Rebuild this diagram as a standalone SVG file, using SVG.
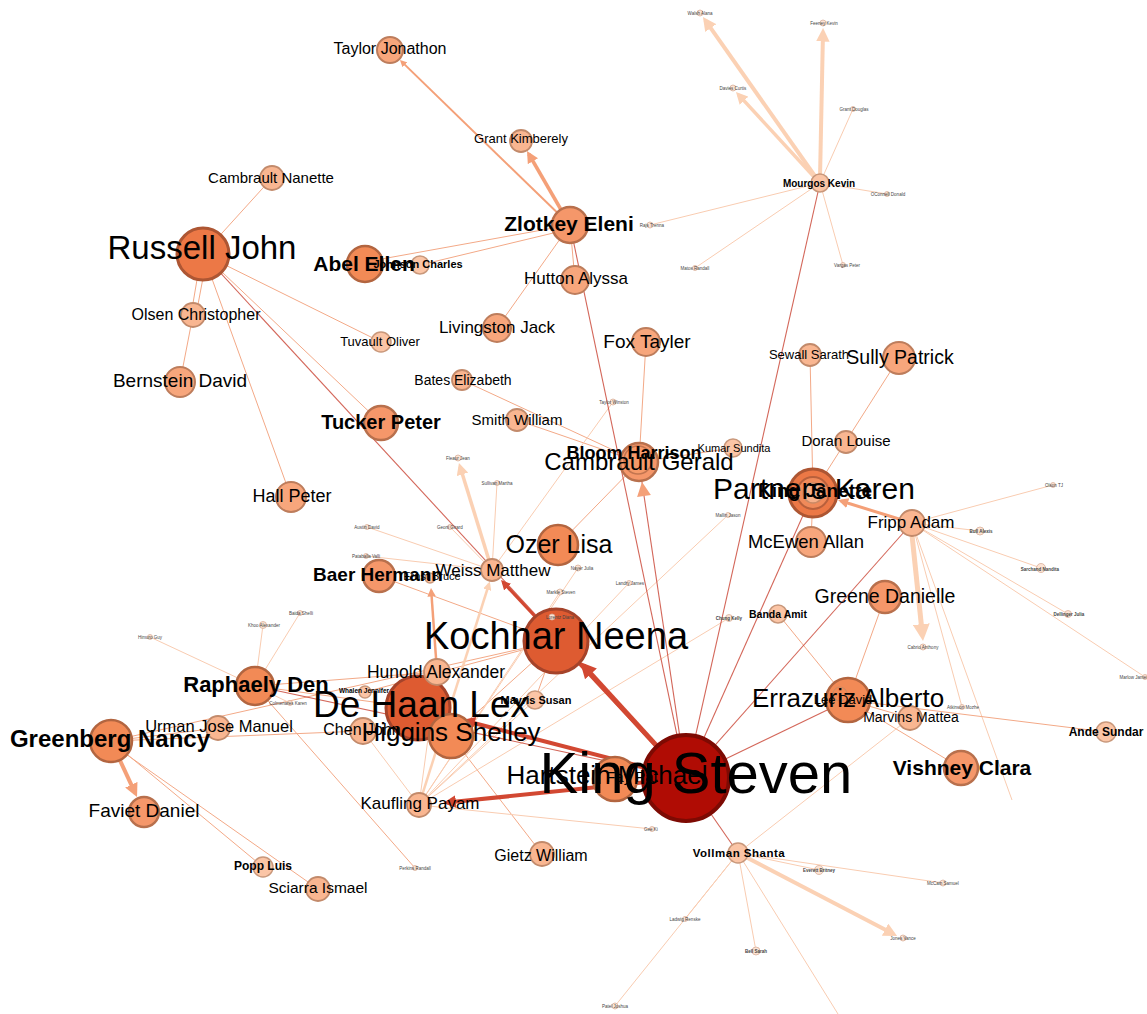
<svg xmlns="http://www.w3.org/2000/svg" width="1147" height="1014" viewBox="0 0 1147 1014">
<defs>
<style>
.e{fill:none;stroke:#f3a987;stroke-width:1}
.ep{fill:none;stroke:#f9ccb1;stroke-width:1}
.er{fill:none;stroke:#c8402f;stroke-width:1.1;stroke-opacity:.8}
.tr{fill:none;stroke:#d24832}
.tp{fill:none;stroke:#fbd1b4}
.to{fill:none;stroke:#f4a078}
.nk{fill:#b00c04;stroke:#7d0a03;stroke-width:4}
.n1{fill:#de5b31;stroke:#a5432a;stroke-width:3}
.n2{fill:#ec7846;stroke:#ad5633;stroke-width:3}
.n3{fill:#f28a56;stroke:#b26540;stroke-width:2.5}
.n4{fill:#f5976a;stroke:#b8704d;stroke-width:2.5}
.n5{fill:#f7a67c;stroke:#bd7d5c;stroke-width:2}
.n6{fill:#f9b691;stroke:#c28a6b;stroke-width:1.8}
.n7{fill:#fbc5a6;stroke:#c9987b;stroke-width:1.5}
.nt{fill:#fde4d5;stroke:#d8b09a;stroke-width:.8}
text{font-family:"Liberation Sans",Arial,sans-serif;fill:#000;text-anchor:middle}
.b{font-weight:bold}
.tt{font-size:4.5px;fill:#444}
</style>
<marker id="aR" viewBox="0 0 10 10" refX="7" refY="5" markerWidth="3.2" markerHeight="3.2" orient="auto" markerUnits="strokeWidth"><path d="M0,0L10,5L0,10z" fill="#d24832"/></marker>
<marker id="aP" viewBox="0 0 10 10" refX="7" refY="5" markerWidth="3.4" markerHeight="3.4" orient="auto" markerUnits="strokeWidth"><path d="M0,0L10,5L0,10z" fill="#fbd1b4"/></marker>
<marker id="aO" viewBox="0 0 10 10" refX="7" refY="5" markerWidth="3.4" markerHeight="3.4" orient="auto" markerUnits="strokeWidth"><path d="M0,0L10,5L0,10z" fill="#f4a078"/></marker>
</defs>
<rect width="1147" height="1014" fill="#fff"/>
<g id="connectors">
<line class="ep" x1="820" y1="183" x2="853" y2="109"/>
<line class="ep" x1="820" y1="183" x2="887" y2="194"/>
<line class="ep" x1="820" y1="183" x2="843" y2="265"/>
<line class="ep" x1="820" y1="183" x2="695" y2="268"/>
<line class="ep" x1="820" y1="183" x2="650" y2="225"/>
<line class="tp" stroke-width="4" x1="817" y1="179" x2="705.3" y2="20.3" marker-end="url(#aP)"/>
<line class="tp" stroke-width="4" x1="820" y1="178" x2="823" y2="32" marker-end="url(#aP)"/>
<line class="tp" stroke-width="3.5" x1="816" y1="179" x2="738.4" y2="94.6" marker-end="url(#aP)"/>
<line class="e" x1="203" y1="254" x2="272" y2="178"/>
<line class="e" x1="200" y1="262" x2="191" y2="315"/>
<line class="e" x1="206" y1="262" x2="196" y2="315"/>
<line class="e" x1="193" y1="315" x2="180" y2="382"/>
<line class="e" x1="203" y1="254" x2="291" y2="497"/>
<line class="e" x1="203" y1="254" x2="381" y2="423"/>
<line class="e" x1="203" y1="254" x2="381" y2="342"/>
<line class="to" stroke-width="2" x1="570" y1="225" x2="401.4" y2="61.4" marker-end="url(#aO)"/>
<line class="to" stroke-width="3.5" x1="567" y1="220" x2="528.8" y2="154" marker-end="url(#aO)"/>
<line class="e" x1="570" y1="225" x2="365" y2="262"/>
<line class="e" x1="570" y1="229" x2="420" y2="265"/>
<line class="e" x1="570" y1="225" x2="575" y2="280"/>
<line class="e" x1="570" y1="225" x2="497" y2="328"/>
<line class="e" x1="646" y1="342" x2="639" y2="462"/>
<line class="e" x1="462" y1="380" x2="639" y2="462"/>
<line class="e" x1="517" y1="420" x2="639" y2="462"/>
<line class="e" x1="733" y1="448" x2="639" y2="462"/>
<line class="e" x1="558" y1="545" x2="639" y2="462"/>
<line class="tp" stroke-width="3.5" x1="492" y1="570" x2="460" y2="466.4" marker-end="url(#aP)"/>
<line class="ep" x1="492" y1="570" x2="497" y2="483"/>
<line class="ep" x1="492" y1="570" x2="613" y2="402"/>
<line class="ep" x1="492" y1="570" x2="450" y2="527"/>
<line class="ep" x1="492" y1="570" x2="367" y2="527"/>
<line class="ep" x1="492" y1="570" x2="366" y2="556"/>
<line class="e" x1="810" y1="355" x2="813" y2="493"/>
<line class="e" x1="899" y1="358" x2="813" y2="493"/>
<line class="e" x1="813" y1="493" x2="811" y2="542"/>
<line class="to" stroke-width="3" x1="912" y1="523" x2="841" y2="501" marker-end="url(#aO)"/>
<line class="ep" x1="912" y1="523" x2="980" y2="531"/>
<line class="ep" x1="912" y1="523" x2="1041" y2="568"/>
<line class="ep" x1="912" y1="523" x2="1068" y2="614"/>
<line class="ep" x1="912" y1="523" x2="1053" y2="485"/>
<line class="ep" x1="912" y1="523" x2="1145" y2="677"/>
<line class="ep" x1="912" y1="523" x2="962" y2="707"/>
<line class="ep" x1="912" y1="523" x2="1012" y2="800"/>
<line class="tp" stroke-width="5" x1="912" y1="535" x2="922.5" y2="636" marker-end="url(#aP)"/>
<line class="e" x1="848" y1="700" x2="885" y2="597"/>
<line class="e" x1="848" y1="700" x2="778" y2="614"/>
<line class="e" x1="848" y1="700" x2="910" y2="718"/>
<line class="e" x1="848" y1="700" x2="961" y2="768"/>
<line class="e" x1="848" y1="700" x2="1106" y2="732"/>
<line class="to" stroke-width="4" x1="111" y1="741" x2="135.3" y2="793.4" marker-end="url(#aO)"/>
<line class="e" x1="111" y1="741" x2="218" y2="728"/>
<line class="e" x1="111" y1="741" x2="363" y2="731"/>
<line class="e" x1="111" y1="741" x2="263" y2="867"/>
<line class="e" x1="113" y1="745" x2="318" y2="889"/>
<line class="e" x1="111" y1="741" x2="556" y2="641"/>
<line class="e" x1="379" y1="576" x2="556" y2="641"/>
<line class="e" x1="556" y1="641" x2="451" y2="736"/>
<line class="e" x1="556" y1="641" x2="535" y2="700"/>
<line class="e" x1="556" y1="641" x2="365" y2="692"/>
<line class="e" x1="418" y1="708" x2="437" y2="672"/>
<line class="e" x1="451" y1="736" x2="542" y2="854"/>
<line class="e" x1="255" y1="686" x2="418" y2="708"/>
<line class="e" x1="255" y1="686" x2="437" y2="672"/>
<line class="to" stroke-width="2.5" x1="437" y1="672" x2="431.2" y2="590.5" marker-end="url(#aO)"/>
<line class="ep" x1="255" y1="686" x2="263" y2="625"/>
<line class="ep" x1="255" y1="686" x2="300" y2="613"/>
<line class="ep" x1="255" y1="686" x2="150" y2="637"/>
<line class="ep" x1="255" y1="686" x2="290" y2="703"/>
<line class="e" x1="255" y1="686" x2="415" y2="868"/>
<line class="ep" x1="419" y1="805" x2="652" y2="829"/>
<line class="ep" x1="419" y1="805" x2="729" y2="618"/>
<line class="ep" x1="419" y1="805" x2="728" y2="515"/>
<line class="ep" x1="419" y1="805" x2="629" y2="583"/>
<line class="ep" x1="419" y1="805" x2="560" y2="592"/>
<line class="ep" x1="419" y1="805" x2="578" y2="568"/>
<line class="ep" x1="419" y1="805" x2="535" y2="700"/>
<line class="ep" x1="419" y1="805" x2="437" y2="672"/>
<line class="ep" x1="419" y1="805" x2="363" y2="731"/>
<line class="tp" stroke-width="2.5" x1="419" y1="805" x2="489" y2="584" marker-end="url(#aP)"/>
<line class="ep" x1="738" y1="853" x2="819" y2="870"/>
<line class="ep" x1="738" y1="853" x2="943" y2="883"/>
<line class="ep" x1="738" y1="853" x2="756" y2="951"/>
<line class="ep" x1="738" y1="853" x2="685" y2="919"/>
<line class="ep" x1="738" y1="853" x2="615" y2="1006"/>
<line class="ep" x1="738" y1="853" x2="838" y2="1014"/>
<line class="ep" x1="738" y1="853" x2="910" y2="718"/>
<line class="tp" stroke-width="4" x1="738" y1="853" x2="893.5" y2="934" marker-end="url(#aP)"/>
<line class="er" x1="686" y1="778" x2="570" y2="225"/>
<line class="er" x1="686" y1="778" x2="820" y2="183"/>
<line class="er" x1="686" y1="778" x2="203" y2="254"/>
<line class="er" x1="686" y1="778" x2="813" y2="493"/>
<line class="er" x1="686" y1="778" x2="912" y2="523"/>
<line class="er" x1="686" y1="778" x2="848" y2="700"/>
<line class="er" x1="686" y1="778" x2="255" y2="686"/>
<line class="er" x1="686" y1="778" x2="738" y2="853"/>
<line class="er" x1="686" y1="778" x2="639" y2="462"/>
<polygon points="642,482 650.9,495 637.1,497" fill="#f4a078"/>
<line class="tr" stroke-width="5" x1="686" y1="778" x2="583.4" y2="665.6" marker-end="url(#aR)"/>
<line class="tr" stroke-width="3" x1="686" y1="778" x2="503" y2="582.2" marker-end="url(#aR)"/>
<line class="tr" stroke-width="4" x1="686" y1="778" x2="465.9" y2="721" marker-end="url(#aR)"/>
<line class="tr" stroke-width="4" x1="686" y1="778" x2="447" y2="802.6" marker-end="url(#aR)"/>
</g>
<g id="nodes">
<g id="n-mourgos-tiny"><circle class="nt" cx="700" cy="13" r="3"/><circle class="nt" cx="823" cy="23" r="3"/><circle class="nt" cx="733" cy="88" r="3"/><circle class="nt" cx="853" cy="109" r="2.5"/><circle class="nt" cx="887" cy="194" r="2.5"/><circle class="nt" cx="843" cy="265" r="2.5"/><circle class="nt" cx="695" cy="268" r="2.5"/><circle class="nt" cx="650" cy="225" r="3"/></g>
<g id="n-fripp-tiny"><circle class="nt" cx="980" cy="531" r="4"/><circle class="nt" cx="1041" cy="568" r="4.5"/><circle class="nt" cx="1068" cy="614" r="3.5"/><circle class="nt" cx="923" cy="647" r="3"/><circle class="nt" cx="1053" cy="485" r="2.5"/><circle class="nt" cx="1145" cy="677" r="2.5"/><circle class="nt" cx="962" cy="707" r="2.5"/></g>
<g id="n-vollman-tiny"><circle class="nt" cx="819" cy="870" r="4.5"/><circle class="nt" cx="943" cy="883" r="3"/><circle class="nt" cx="903" cy="938" r="3"/><circle class="nt" cx="756" cy="951" r="4"/><circle class="nt" cx="685" cy="919" r="2.5"/><circle class="nt" cx="615" cy="1006" r="3"/><circle class="nt" cx="652" cy="829" r="2.5"/></g>
<g id="n-center-tiny"><circle class="nt" cx="263" cy="625" r="3.5"/><circle class="nt" cx="300" cy="613" r="2.5"/><circle class="nt" cx="150" cy="637" r="2.5"/><circle class="nt" cx="290" cy="703" r="2.5"/><circle class="nt" cx="415" cy="868" r="2.5"/><circle class="nt" cx="613" cy="402" r="3"/><circle class="nt" cx="458" cy="458" r="3"/><circle class="nt" cx="497" cy="483" r="2.5"/><circle class="nt" cx="450" cy="527" r="2.5"/><circle class="nt" cx="367" cy="527" r="2.5"/><circle class="nt" cx="366" cy="556" r="2.5"/><circle class="nt" cx="578" cy="568" r="3"/><circle class="nt" cx="560" cy="592" r="3"/><circle class="nt" cx="629" cy="583" r="2.5"/><circle class="nt" cx="728" cy="515" r="2.5"/><circle class="nt" cx="729" cy="618" r="3.5"/></g>
<g id="n-king-steven"><circle class="nk" cx="686" cy="778" r="43"/></g>
<g id="n-kochhar-neena"><circle class="n1" cx="556" cy="641" r="32"/><circle class="nt" cx="552" cy="617" r="3"/></g>
<g id="n-de-haan-lex"><circle class="n1" cx="418" cy="708" r="32"/></g>
<g id="n-russell-john"><circle class="n2" cx="203" cy="254" r="26"/></g>
<g id="n-partners-karen"><circle class="n2" cx="813" cy="493" r="24"/><circle fill="#f08a5a" stroke="#b8603c" stroke-width="2" cx="813" cy="493" r="16"/><circle fill="#f6b08a" stroke="#c98a66" stroke-width="1.5" cx="813" cy="493" r="10"/></g>
<g id="n-errazuriz-alberto"><circle class="n3" cx="848" cy="700" r="22"/><circle fill="none" stroke="#c98a66" stroke-width="1" cx="840" cy="694" r="7"/></g>
<g id="n-higgins-shelley"><circle class="n3" cx="451" cy="736" r="22"/></g>
<g id="n-hartstein-michael"><circle class="n3" cx="615" cy="779" r="22"/></g>
<g id="n-ozer-lisa"><circle class="n3" cx="558" cy="545" r="20"/></g>
<g id="n-greenberg-nancy"><circle class="n3" cx="111" cy="741" r="21"/></g>
<g id="n-abel-ellen"><circle class="n3" cx="365" cy="264" r="18"/></g>
<g id="n-raphaely-den"><circle class="n3" cx="255" cy="686" r="19"/></g>
<g id="n-cambrault-gerald"><circle class="n4" cx="639" cy="462" r="19"/><circle fill="#f59a6a" stroke="#c27550" stroke-width="1.5" cx="638" cy="460" r="14"/></g>
<g id="n-zlotkey-eleni"><circle class="n4" cx="570" cy="225" r="18"/></g>
<g id="n-tucker-peter"><circle class="n4" cx="381" cy="423" r="17"/></g>
<g id="n-baer-hermann"><circle class="n4" cx="379" cy="576" r="16"/></g>
<g id="n-vishney-clara"><circle class="n4" cx="961" cy="768" r="17"/></g>
<g id="n-greene-danielle"><circle class="n4" cx="885" cy="597" r="16"/></g>
<g id="n-faviet-daniel"><circle class="n4" cx="144" cy="812" r="15"/></g>
<g id="n-taylor-jonathon"><circle class="n5" cx="390" cy="50" r="13"/></g>
<g id="n-bernstein-david"><circle class="n5" cx="180" cy="382" r="15"/></g>
<g id="n-hall-peter"><circle class="n5" cx="291" cy="497" r="15"/></g>
<g id="n-hutton-alyssa"><circle class="n5" cx="575" cy="280" r="14"/></g>
<g id="n-sully-patrick"><circle class="n5" cx="899" cy="358" r="16"/></g>
<g id="n-mcewen-allan"><circle class="n5" cx="811" cy="542" r="15"/></g>
<g id="n-fox-tayler"><circle class="n5" cx="646" cy="342" r="14"/></g>
<g id="n-livingston-jack"><circle class="n5" cx="497" cy="328" r="14"/></g>
<g id="n-grant-kimberely"><circle class="n6" cx="521" cy="141" r="11"/></g>
<g id="n-cambrault-nanette"><circle class="n6" cx="272" cy="178" r="12"/></g>
<g id="n-olsen-christopher"><circle class="n6" cx="193" cy="315" r="12"/></g>
<g id="n-smith-william"><circle class="n6" cx="517" cy="420" r="11"/></g>
<g id="n-hunold-alexander"><circle class="n6" cx="437" cy="672" r="13"/></g>
<g id="n-weiss-matthew"><circle class="n6" cx="492" cy="570" r="11"/></g>
<g id="n-kaufling-payam"><circle class="n6" cx="419" cy="805" r="12"/></g>
<g id="n-gietz-william"><circle class="n6" cx="542" cy="854" r="12"/></g>
<g id="n-sewall-sarath"><circle class="n6" cx="810" cy="355" r="11"/></g>
<g id="n-doran-louise"><circle class="n6" cx="846" cy="442" r="11"/></g>
<g id="n-fripp-adam"><circle class="n6" cx="912" cy="523" r="13"/></g>
<g id="n-marvins-mattea"><circle class="n6" cx="910" cy="718" r="12"/></g>
<g id="n-sciarra-ismael"><circle class="n6" cx="318" cy="889" r="12"/></g>
<g id="n-urman-jose-manuel"><circle class="n6" cx="218" cy="728" r="12"/></g>
<g id="n-chen-john"><circle class="n6" cx="363" cy="731" r="13"/></g>
<g id="n-bates-elizabeth"><circle class="n6" cx="462" cy="380" r="10"/></g>
<g id="n-tuvault-oliver"><circle class="n7" cx="381" cy="342" r="10"/></g>
<g id="n-kumar-sundita"><circle class="n7" cx="733" cy="448" r="9"/></g>
<g id="n-mavris-susan"><circle class="n7" cx="535" cy="700" r="9"/></g>
<g id="n-popp-luis"><circle class="n7" cx="263" cy="867" r="10"/></g>
<g id="n-vollman-shanta"><circle class="n7" cx="738" cy="853" r="10"/></g>
<g id="n-banda-amit"><circle class="n7" cx="778" cy="614" r="9"/></g>
<g id="n-mourgos-kevin"><circle class="n7" cx="820" cy="183" r="9"/></g>
<g id="n-ande-sundar"><circle class="n7" cx="1106" cy="732" r="10"/></g>
<g id="n-johnson-charles"><circle class="n7" cx="420" cy="265" r="9"/></g>
<g id="n-whalen-jennifer"><circle class="n7" cx="365" cy="692" r="6"/></g>
<g id="n-ernst-bruce"><circle class="n7" cx="430" cy="578" r="5"/></g>
</g>
<g id="labels">
<text x="390" y="54" font-size="16">Taylor Jonathon</text>
<text x="521" y="143" font-size="13">Grant Kimberely</text>
<text x="271" y="183" font-size="15">Cambrault Nanette</text>
<text x="202" y="259" font-size="33">Russell John</text>
<text x="364" y="271" font-size="21" class="b">Abel Ellen</text>
<text x="418" y="268" font-size="11" class="b">Johnson Charles</text>
<text x="569" y="231" font-size="21" class="b">Zlotkey Eleni</text>
<text x="576" y="284" font-size="17">Hutton Alyssa</text>
<text x="196" y="320" font-size="16">Olsen Christopher</text>
<text x="380" y="346" font-size="13">Tuvault Oliver</text>
<text x="497" y="333" font-size="17">Livingston Jack</text>
<text x="647" y="348" font-size="19">Fox Tayler</text>
<text x="180" y="387" font-size="19">Bernstein David</text>
<text x="463" y="385" font-size="14">Bates Elizabeth</text>
<text x="381" y="429" font-size="20" class="b">Tucker Peter</text>
<text x="517" y="425" font-size="15">Smith William</text>
<text x="809" y="359" font-size="13">Sewall Sarath</text>
<text x="900" y="364" font-size="19.5">Sully Patrick</text>
<text x="846" y="446" font-size="15">Doran Louise</text>
<text x="734" y="452" font-size="11">Kumar Sundita</text>
<text x="639" y="470" font-size="24">Cambrault Gerald</text>
<text x="634" y="459" font-size="18" class="b">Bloom Harrison</text>
<text x="292" y="502" font-size="18">Hall Peter</text>
<text x="814" y="499" font-size="30">Partners Karen</text>
<text x="815" y="497" font-size="19" class="b">King Janette</text>
<text x="911" y="528" font-size="17">Fripp Adam</text>
<text x="806" y="548" font-size="18.5">McEwen Allan</text>
<text x="559" y="553" font-size="25">Ozer Lisa</text>
<text x="432" y="580" font-size="11">Ernst Bruce</text>
<text x="378" y="581" font-size="19" class="b">Baer Hermann</text>
<text x="493" y="576" font-size="17">Weiss Matthew</text>
<text x="885" y="603" font-size="19.5">Greene Danielle</text>
<text x="778" y="618" font-size="10.5" class="b">Banda Amit</text>
<text x="556" y="649" font-size="38">Kochhar Neena</text>
<text x="436" y="678" font-size="17.5">Hunold Alexander</text>
<text x="256" y="692" font-size="22" class="b">Raphaely Den</text>
<text x="364" y="693" font-size="6.5" class="b">Whalen Jennifer</text>
<text x="536" y="704" font-size="11" class="b">Mavris Susan</text>
<text x="843" y="704" font-size="13">Lee David</text>
<text x="848" y="707" font-size="26">Errazuriz Alberto</text>
<text x="911" y="722" font-size="14">Marvins Mattea</text>
<text x="1106" y="736" font-size="12" class="b">Ande Sundar</text>
<text x="219" y="732" font-size="16.5">Urman Jose Manuel</text>
<text x="362" y="735" font-size="16">Chen John</text>
<text x="110" y="747" font-size="24" class="b">Greenberg Nancy</text>
<text x="421" y="717" font-size="37">De Haan Lex</text>
<text x="451" y="741" font-size="26">Higgins Shelley</text>
<text x="962" y="775" font-size="21" class="b">Vishney Clara</text>
<text x="607" y="784" font-size="26">Hartstein Michael</text>
<text x="632" y="782" font-size="15">Fay Pat</text>
<text x="696" y="793" font-size="58">King Steven</text>
<text x="420" y="809" font-size="17">Kaufling Payam</text>
<text x="144" y="817" font-size="19">Faviet Daniel</text>
<text x="541" y="861" font-size="16">Gietz William</text>
<text x="739" y="857" font-size="11.5" class="b" letter-spacing="0.5">Vollman Shanta</text>
<text x="263" y="870" font-size="12" class="b">Popp Luis</text>
<text x="318" y="893" font-size="15.5">Sciarra Ismael</text>
<text x="819" y="187" font-size="10" class="b">Mourgos Kevin</text>
<text class="tt" x="700" y="15">Walsh Alana</text>
<text class="tt" x="824" y="25">Feeney Kevin</text>
<text class="tt" x="733" y="90">Davies Curtis</text>
<text class="tt" x="854" y="111" font-size="3.5">Grant Douglas</text>
<text class="tt" x="888" y="196" font-size="3.5">OConnell Donald</text>
<text class="tt" x="847" y="267" font-size="3.5">Vargas Peter</text>
<text class="tt" x="695" y="270" font-size="3.5">Matos Randall</text>
<text class="tt" x="652" y="227" font-size="4">Rajs Trenna</text>
<text class="tt b" x="981" y="533" font-size="6">Bull Alexis</text>
<text class="tt b" x="1040" y="571" font-size="7">Sarchand Nandita</text>
<text class="tt b" x="1069" y="616" font-size="5">Dellinger Julia</text>
<text class="tt" x="923" y="649" font-size="3.5">Cabrio Anthony</text>
<text class="tt" x="1054" y="487" font-size="3.5">Olson TJ</text>
<text class="tt" x="1134" y="679" font-size="3.5">Marlow James</text>
<text class="tt" x="963" y="709" font-size="3.5">Atkinson Mozhe</text>
<text class="tt b" x="819" y="872" font-size="6">Everett Britney</text>
<text class="tt" x="943" y="885" font-size="4">McCain Samuel</text>
<text class="tt" x="903" y="940" font-size="3.5">Jones Vance</text>
<text class="tt b" x="756" y="953" font-size="5.5">Bell Sarah</text>
<text class="tt" x="685" y="921" font-size="3.5">Ladwig Renske</text>
<text class="tt" x="615" y="1008" font-size="4">Patel Joshua</text>
<text class="tt" x="651" y="831" font-size="3.5">Gee Ki</text>
<text class="tt" x="264" y="627" font-size="4.5">Khoo Alexander</text>
<text class="tt" x="301" y="615" font-size="3.5">Baida Shelli</text>
<text class="tt" x="150" y="639" font-size="3.5">Himuro Guy</text>
<text class="tt" x="288" y="705" font-size="3.5">Colmenares Karen</text>
<text class="tt" x="415" y="870" font-size="3.5">Perkins Randall</text>
<text class="tt" x="614" y="404" font-size="4">Taylor Winston</text>
<text class="tt" x="458" y="460" font-size="4">Fleaur Jean</text>
<text class="tt" x="497" y="485" font-size="3.5">Sullivan Martha</text>
<text class="tt" x="450" y="529" font-size="3.5">Geoni Girard</text>
<text class="tt" x="367" y="529" font-size="3.5">Austin David</text>
<text class="tt" x="366" y="558" font-size="3.5">Pataballa Valli</text>
<text class="tt" x="582" y="570" font-size="4">Nayer Julia</text>
<text class="tt" x="561" y="594" font-size="4">Markle Steven</text>
<text class="tt" x="630" y="585" font-size="3.5">Landry James</text>
<text class="tt" x="728" y="517" font-size="3.5">Mallin Jason</text>
<text class="tt b" x="729" y="620" font-size="6">Chung Kelly</text>
<text class="tt" x="560" y="619" font-size="6.5">Lorentz Diana</text>
</g>
</svg>
